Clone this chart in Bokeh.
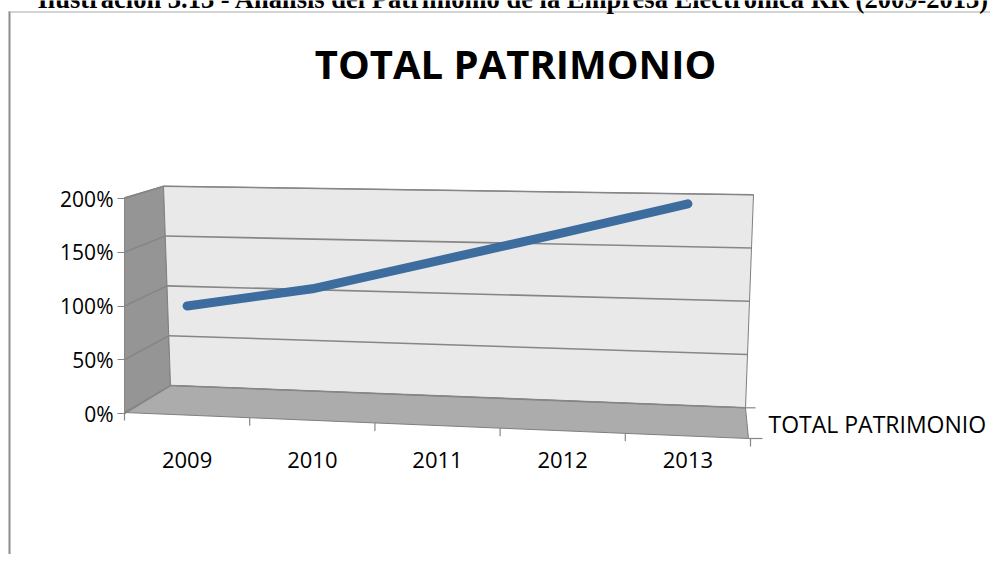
from bokeh.plotting import figure
from bokeh.models import (Range1d, Label, NumeralTickFormatter, FixedTicker,
                          LinearAxis, ColumnDataSource)
from bokeh.embed import file_html
from bokeh.resources import INLINE

# ---------------- data ----------------
years = ["2009", "2010", "2011", "2012", "2013"]
patrimonio = [1.00, 1.16, 1.42, 1.68, 1.95]          # shares (1.00 = 100%)
y_ticks = [0.0, 0.5, 1.0, 1.5, 2.0]
series_name = "TOTAL PATRIMONIO"
chart_title = "TOTAL PATRIMONIO"
caption = "Ilustración 3.13 - Análisis del Patrimonio de la Empresa Electrónica RR (2009-2013)"

# ---------------- layout (pixels on the canvas) ----------------
W, H = 990, 554
CAT_L, CAT_R = 124, 750              # extent of the category axis
Y0_PX, PX_PER_UNIT = 413.0, 107.5    # y of 0 %, pixels per 100 %
X_AXIS_Y = 445                       # where the year labels hang from
CAT_W = (CAT_R - CAT_L) / len(years)

def xd(xp):
    return (xp - CAT_L) / CAT_W

def yd(yp):
    return (Y0_PX - yp) / PX_PER_UNIT

FONT = "Open Sans"
GRID = "#868686"

p = figure(width=W, height=H, output_backend="svg", toolbar_location=None,
           x_range=Range1d(xd(0), xd(W)), y_range=Range1d(yd(H), yd(0)),
           x_axis_location=None, y_axis_location=None,
           min_border=0, min_border_left=0, min_border_right=0,
           min_border_top=0, min_border_bottom=0)
p.outline_line_color = None
p.background_fill_color = "white"
p.border_fill_color = "white"
p.xgrid.visible = False
p.ygrid.visible = False

# ---------------- chart-area border ----------------
p.segment([xd(9)], [yd(11)], [xd(9)], [yd(H)], line_color="#8c8c8c", line_width=2)
p.segment([xd(8)], [yd(11.5)], [xd(W)], [yd(11.5)], line_color="#a8a8a8", line_width=1)

# ---------------- 3-D box decoration ----------------
WALL_EDGE = "#7f7f7f"
A = (CAT_L, 197)     # side wall front top
B = (163, 185.7)     # back wall top left
C = (170, 385)       # back wall bottom left
D = (CAT_L, 412)     # floor front left
E = (753, 194.3)     # back wall top right
F = (745, 407.3)     # back wall bottom right
G = (748, 438)       # floor front right

def poly(pts, fill):
    p.patch([xd(q[0]) for q in pts], [yd(q[1]) for q in pts],
            fill_color=fill, line_color=WALL_EDGE, line_width=1)

poly([A, B, C, D], "#959595")          # side wall
poly([B, E, F, C], "#e9e9e9")          # back wall
poly([C, F, G, D], "#acacac")          # floor

# gridlines following the walls, one per tick value
top = y_ticks[-1]
gx0, gy0, gx1, gy1 = [], [], [], []
for t in y_ticks:
    f = t / top
    bl = (C[0] + (B[0] - C[0]) * f, C[1] + (B[1] - C[1]) * f)
    br = (F[0] + (E[0] - F[0]) * f, F[1] + (E[1] - F[1]) * f)
    gx0.append(xd(CAT_L)); gy0.append(t); gx1.append(xd(bl[0])); gy1.append(yd(bl[1]))
    gx0.append(xd(bl[0])); gy0.append(yd(bl[1])); gx1.append(xd(br[0])); gy1.append(yd(br[1]))
p.segment(gx0, gy0, gx1, gy1, line_color=GRID, line_width=1.6)

# category tick marks on the front floor edge
tx, ty0, ty1 = [], [], []
for i in range(len(years) + 1):
    xp = CAT_L + i * CAT_W
    yp = D[1] + (G[1] - D[1]) * (xp - D[0]) / (G[0] - D[0])
    tx.append(xd(xp)); ty0.append(yd(yp)); ty1.append(yd(yp + 8))
p.segment(tx, ty0, tx, ty1, line_color=GRID, line_width=1.2)
# series-axis ticks on the right edge of the floor
p.segment([xd(F[0]), xd(G[0])], [yd(F[1]), yd(G[1])],
          [xd(F[0] + 10), xd(G[0] + 14)], [yd(F[1]), yd(G[1])],
          line_color=GRID, line_width=1.2)

# ---------------- data line ----------------
xpos = [i + 0.5 for i in range(len(years))]
src = ColumnDataSource(dict(x=xpos, value=patrimonio, year=years))
p.line("x", "value", source=src, line_width=9, line_color="#3d6d9e",
       line_cap="round", line_join="round")

# ---------------- axes ----------------
ya = LinearAxis(fixed_location=0.0, ticker=FixedTicker(ticks=y_ticks),
                formatter=NumeralTickFormatter(format="0%"),
                bounds=(y_ticks[0], y_ticks[-1]))
ya.axis_line_color = GRID
ya.major_tick_line_color = GRID
ya.major_tick_out = 7
ya.major_tick_in = 0
ya.minor_tick_line_color = None
ya.major_label_standoff = 4
ya.major_label_text_font = FONT
ya.major_label_text_font_size = "21px"
ya.major_label_text_color = "black"
p.add_layout(ya, "left")

xa = LinearAxis(fixed_location=yd(X_AXIS_Y), ticker=FixedTicker(ticks=xpos),
                major_label_overrides={xv: yr for xv, yr in zip(xpos, years)})
xa.axis_line_color = None
xa.major_tick_line_color = None
xa.minor_tick_line_color = None
xa.major_label_standoff = 0
xa.major_label_text_font = FONT
xa.major_label_text_font_size = "22px"
xa.major_label_text_color = "black"
p.add_layout(xa, "below")

# ---------------- texts ----------------
p.add_layout(Label(x=xd(515), y=yd(63), text=chart_title, text_font=FONT,
                   text_font_style="bold", text_font_size="40px",
                   text_align="center", text_baseline="middle",
                   text_color="black"))
p.add_layout(Label(x=xd(768), y=yd(423.5), text=series_name, text_font=FONT,
                   text_font_size="23px", text_align="left",
                   text_baseline="middle", text_color="black"))
p.add_layout(Label(x=xd(513), y=yd(-2), text=caption, text_font="Liberation Serif",
                   text_font_style="bold", text_font_size="26.5px",
                   text_align="center", text_baseline="middle",
                   text_color="black"))

open("out.html", "w").write(file_html(p, INLINE))
